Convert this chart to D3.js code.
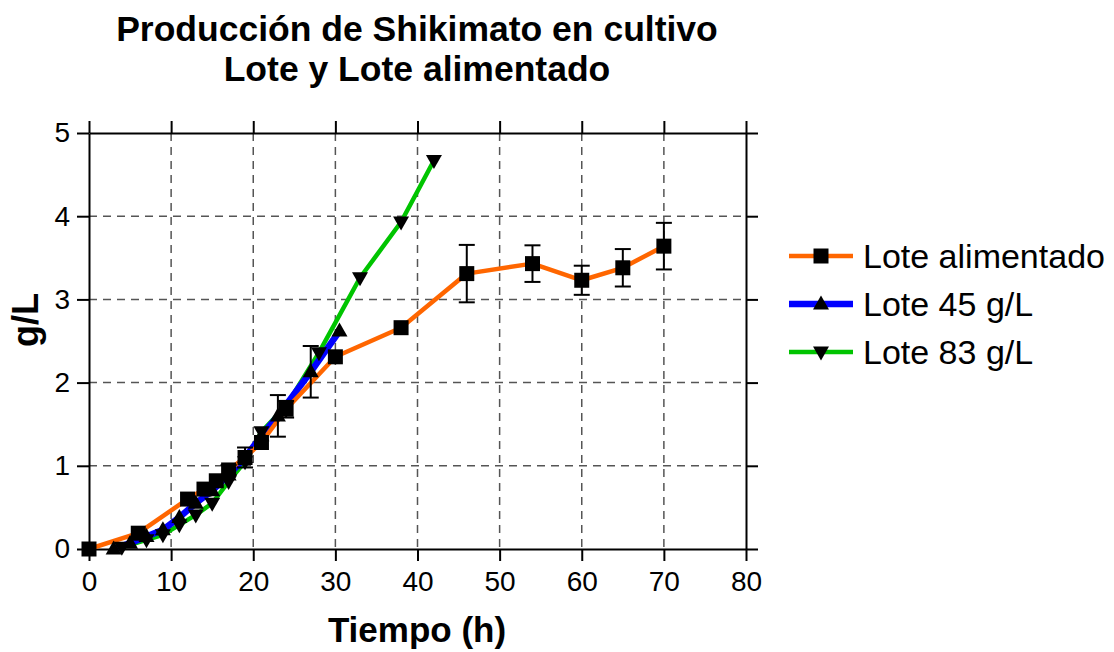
<!DOCTYPE html>
<html>
<head>
<meta charset="utf-8">
<script src="https://cdn.jsdelivr.net/npm/d3@7"></script>
<style>
  html, body { margin: 0; padding: 0; background: #fff; }
  svg { display: block; font-family: "Liberation Sans", Arial, sans-serif; }
</style>
</head>
<body>
<svg id="chart" width="1114" height="652"></svg>
<script>
// ---- data ----
const titleLines = ["Producción de Shikimato en cultivo", "Lote y Lote alimentado"];
const xTitle = "Tiempo (h)";
const yTitle = "g/L";
const xTicks = [0, 10, 20, 30, 40, 50, 60, 70, 80];
const yTicks = [0, 1, 2, 3, 4, 5];
const seriesNames = ["Lote alimentado", "Lote 45 g/L", "Lote 83 g/L"];

const fedX   = [0, 6, 12, 14, 15.5, 17, 19, 21, 24, 30, 38, 46, 54, 60, 65, 70];
const fedY   = [0, 0.19, 0.6, 0.72, 0.82, 0.95, 1.1, 1.28, 1.68, 2.31, 2.66, 3.31, 3.43, 3.23, 3.38, 3.64];
const fedErr = [0, 0, 0, 0, 0, 0.06, 0.12, 0, 0.1, 0, 0, 0.345, 0.22, 0.175, 0.225, 0.28];

const b45X   = [3, 5, 7, 9, 11, 13, 15, 17, 19, 21, 23, 27, 30.5];
const b45Y   = [0, 0.07, 0.15, 0.23, 0.38, 0.55, 0.7, 0.89, 1.1, 1.36, 1.6, 2.13, 2.62];
const b45Err = [0, 0, 0, 0, 0, 0, 0, 0, 0, 0, 0.25, 0.31, 0];

const b83X   = [4, 7, 9, 11, 13, 15, 17, 19, 21, 24, 28, 33, 38, 42];
const b83Y   = [0.02, 0.11, 0.17, 0.29, 0.41, 0.55, 0.81, 1.05, 1.41, 1.72, 2.36, 3.26, 3.93, 4.67];
const b83Err = [0, 0, 0, 0, 0, 0, 0, 0, 0, 0, 0, 0, 0, 0];

// ---- layout ----
const svg = d3.select("#chart");
const L = 89, R = 746, T = 133, B = 549;
const x = d3.scaleLinear().domain([0, 80]).range([L, R]);
const y = d3.scaleLinear().domain([0, 5]).range([B, T]);

const series = [
  { name: seriesNames[2], xs: b83X, ys: b83Y, es: b83Err, color: "#00c400", width: 4.5, marker: "down" },
  { name: seriesNames[1], xs: b45X, ys: b45Y, es: b45Err, color: "#0000ff", width: 6.5, marker: "up" },
  { name: seriesNames[0], xs: fedX, ys: fedY, es: fedErr, color: "#ff6600", width: 4.5, marker: "square" }
];

// grid
const grid = svg.append("g");
grid.selectAll("line.gx").data(xTicks.slice(1, -1)).join("line")
  .attr("x1", d => x(d)).attr("x2", d => x(d)).attr("y1", T).attr("y2", B)
  .attr("stroke", "#555").attr("stroke-width", 1.5).attr("stroke-dasharray", "8,6");
grid.selectAll("line.gy").data(yTicks.slice(1, -1)).join("line")
  .attr("x1", L).attr("x2", R).attr("y1", d => y(d)).attr("y2", d => y(d))
  .attr("stroke", "#555").attr("stroke-width", 1.5).attr("stroke-dasharray", "8,6");

// axes
const tickLen = 12;
const fmt = d3.format("d");
const axB = svg.append("g").attr("transform", `translate(0,${B})`)
  .call(d3.axisBottom(x).tickValues(xTicks).tickFormat(fmt).tickSize(tickLen).tickPadding(10).tickSizeOuter(0));
const axT = svg.append("g").attr("transform", `translate(0,${T})`)
  .call(d3.axisTop(x).tickValues(xTicks).tickSize(tickLen).tickFormat("").tickSizeOuter(0));
const axL = svg.append("g").attr("transform", `translate(${L},0)`)
  .call(d3.axisLeft(y).tickValues(yTicks).tickFormat(fmt).tickSize(tickLen).tickPadding(7).tickSizeOuter(0));
const axR = svg.append("g").attr("transform", `translate(${R},0)`)
  .call(d3.axisRight(y).tickValues(yTicks).tickSize(tickLen).tickFormat("").tickSizeOuter(0));
[axB, axT, axL, axR].forEach(a => {
  a.select(".domain").attr("stroke", "#000").attr("stroke-width", 2);
  a.selectAll(".tick line").attr("stroke", "#000").attr("stroke-width", 2);
  a.selectAll(".tick text").attr("fill", "#000").attr("font-size", 28)
    .attr("font-family", "'Liberation Sans', Arial, sans-serif");
});

// lines
const lineGen = d3.line().x(d => x(d[0])).y(d => y(d[1]));
series.forEach(s => {
  const pts = s.xs.map((v, i) => [v, s.ys[i]]);
  svg.append("path").datum(pts).attr("d", lineGen)
    .attr("fill", "none").attr("stroke", s.color).attr("stroke-width", s.width)
    .attr("stroke-linejoin", "round");
});

// markers and error bars
function markerPath(type, cx, cy) {
  if (type === "square") return `M${cx-7.5},${cy-7.5}h15v15h-15Z`;
  if (type === "up") return `M${cx},${cy-8.5}L${cx+8},${cy+5.5}L${cx-8},${cy+5.5}Z`;
  return `M${cx},${cy+8.5}L${cx+8},${cy-5.5}L${cx-8},${cy-5.5}Z`;
}
series.forEach(s => {
  const g = svg.append("g");
  s.xs.forEach((v, i) => {
    const e = s.es[i];
    if (e > 0) {
      const cx = x(v), y1 = y(s.ys[i] + e), y2 = y(s.ys[i] - e);
      g.append("line").attr("x1", cx).attr("x2", cx).attr("y1", y1).attr("y2", y2)
        .attr("stroke", "#000").attr("stroke-width", 2);
      [y1, y2].forEach(yy => g.append("line").attr("x1", cx - 8).attr("x2", cx + 8)
        .attr("y1", yy).attr("y2", yy).attr("stroke", "#000").attr("stroke-width", 2));
    }
  });
  s.xs.forEach((v, i) => {
    g.append("path").attr("d", markerPath(s.marker, x(v), y(s.ys[i]))).attr("fill", "#000");
  });
});

// titles
svg.append("text").attr("x", 417).attr("y", 41).attr("text-anchor", "middle")
  .attr("font-size", 35.5).attr("font-weight", "bold").text(titleLines[0]);
svg.append("text").attr("x", 417).attr("y", 81).attr("text-anchor", "middle")
  .attr("font-size", 35.5).attr("font-weight", "bold").text(titleLines[1]);
svg.append("text").attr("x", 417).attr("y", 642).attr("text-anchor", "middle")
  .attr("font-size", 35).attr("font-weight", "bold").text(xTitle);
svg.append("text").attr("transform", "translate(38,320) rotate(-90)").attr("text-anchor", "middle")
  .attr("font-size", 36).attr("font-weight", "bold").text(yTitle);

// legend
const legendItems = [series[2], series[1], series[0]];
legendItems.forEach((s, i) => {
  const ly = 256 + i * 48;
  svg.append("line").attr("x1", 789).attr("x2", 853).attr("y1", ly).attr("y2", ly)
    .attr("stroke", s.color).attr("stroke-width", s.width);
  svg.append("path").attr("d", markerPath(s.marker, 821, ly)).attr("fill", "#000");
  svg.append("text").attr("x", 863).attr("y", ly + 12).attr("font-size", 34).text(s.name);
});
</script>
</body>
</html>
